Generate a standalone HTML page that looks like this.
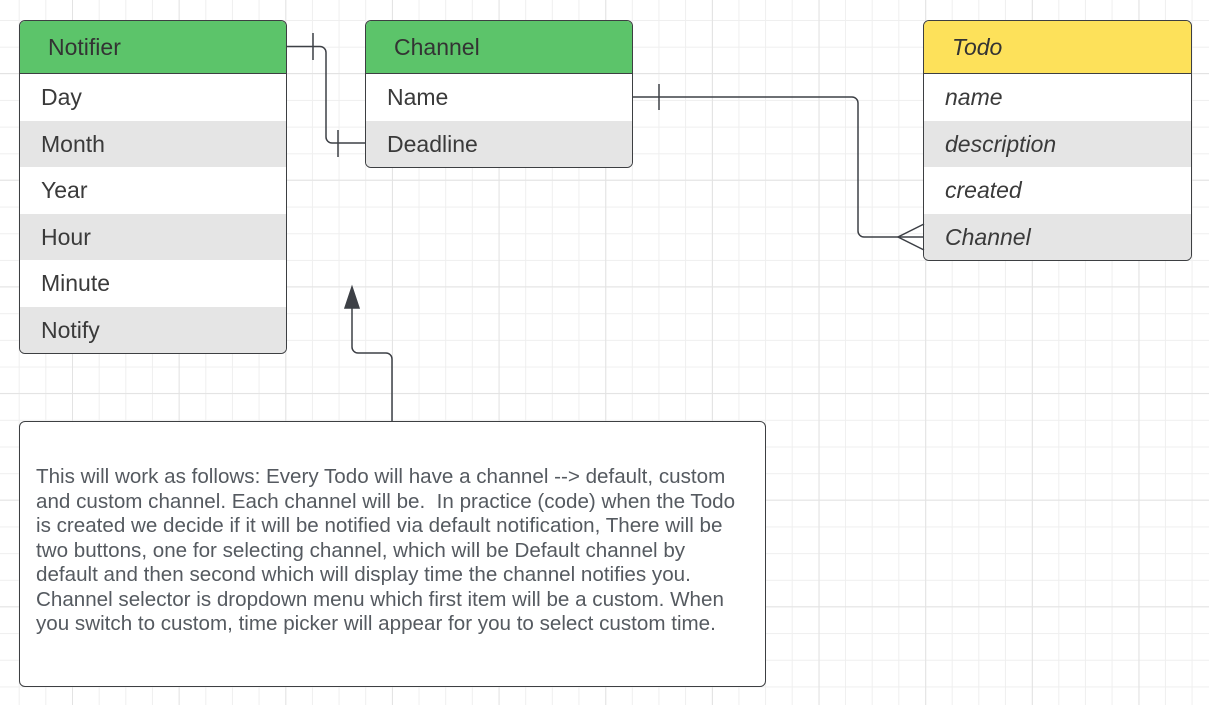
<!DOCTYPE html>
<html><head><meta charset="utf-8"><style>
*{margin:0;padding:0;box-sizing:border-box}
body{width:1209px;height:705px;overflow:hidden;position:relative;background:#fff;font-family:"Liberation Sans",Arial,sans-serif;
background-image:
linear-gradient(to right,#e3e3e3 1px,transparent 1px),
linear-gradient(to bottom,#e3e3e3 1px,transparent 1px),
linear-gradient(to right,#efefef 1px,transparent 1px),
linear-gradient(to bottom,#efefef 1px,transparent 1px);
background-size:106.67px 106.67px,106.67px 106.67px,26.667px 26.667px,26.667px 26.667px;
background-position:72px 0,0 73px,18.7px 0,0 20px;}
.t{position:absolute;border:1.5px solid #3d3f42;border-radius:6px;overflow:hidden;background:#fff}
.h{height:53px;border-bottom:1.5px solid #3d3f42;font-size:23px;color:#333;line-height:52px;padding-left:28px}
.r{height:46.6px;font-size:23px;color:#3a3a3a;line-height:46px;padding-left:21px}
.g{background:#e5e5e5}
.i{font-style:italic}
.note{position:absolute;left:19px;top:421px;width:747px;height:266px;border:1.5px solid #3d3f42;border-radius:6px;background:#fff}
.ln{position:absolute;left:16px;font-size:20.6px;color:#555a60;white-space:nowrap}
</style></head><body>
<div class="t" style="left:19px;top:20px;width:268px;height:334px">
<div class="h" style="background:#5cc46a">Notifier</div>
<div class="r">Day</div><div class="r g">Month</div><div class="r">Year</div><div class="r g">Hour</div><div class="r">Minute</div><div class="r g">Notify</div>
</div>
<div class="t" style="left:365px;top:20px;width:268px;height:148px">
<div class="h" style="background:#5cc46a">Channel</div>
<div class="r">Name</div><div class="r g">Deadline</div>
</div>
<div class="t i" style="left:923px;top:20px;width:269px;height:241px">
<div class="h" style="background:#fde15a">Todo</div>
<div class="r">name</div><div class="r g">description</div><div class="r">created</div><div class="r g">Channel</div>
</div>
<svg width="1209" height="705" style="position:absolute;left:0;top:0" fill="none" stroke="#3d4046" stroke-width="1.5">
<path d="M287 46.5H320a6 6 0 0 1 6 6V137a6 6 0 0 0 6 6H366"/>
<path d="M313 33V60M338 130V157"/>
<path d="M633 97H852a6 6 0 0 1 6 6V231a6 6 0 0 0 6 6H924"/>
<path d="M659 84V110"/>
<path d="M924 224L898 237L924 250"/>
<path d="M392 421V359a6 6 0 0 0 -6 -6H358a6 6 0 0 1 -6 -6V306"/>
<path d="M345 308L352 287L359 308Z" fill="#3d4046"/>
</svg>
<div class="note">
<div class="ln" style="top:43px">This will work as follows: Every Todo will have a channel --&gt; default, custom</div>
<div class="ln" style="top:67.5px">and custom channel. Each channel will be.&nbsp; In practice (code) when the Todo</div>
<div class="ln" style="top:92px">is created we decide if it will be notified via default notification, There will be</div>
<div class="ln" style="top:116.5px">two buttons, one for selecting channel, which will be Default channel by</div>
<div class="ln" style="top:141px">default and then second which will display time the channel notifies you.</div>
<div class="ln" style="top:165.5px">Channel selector is dropdown menu which first item will be a custom. When</div>
<div class="ln" style="top:190px">you switch to custom, time picker will appear for you to select custom time.</div>
</div>
</body></html>
